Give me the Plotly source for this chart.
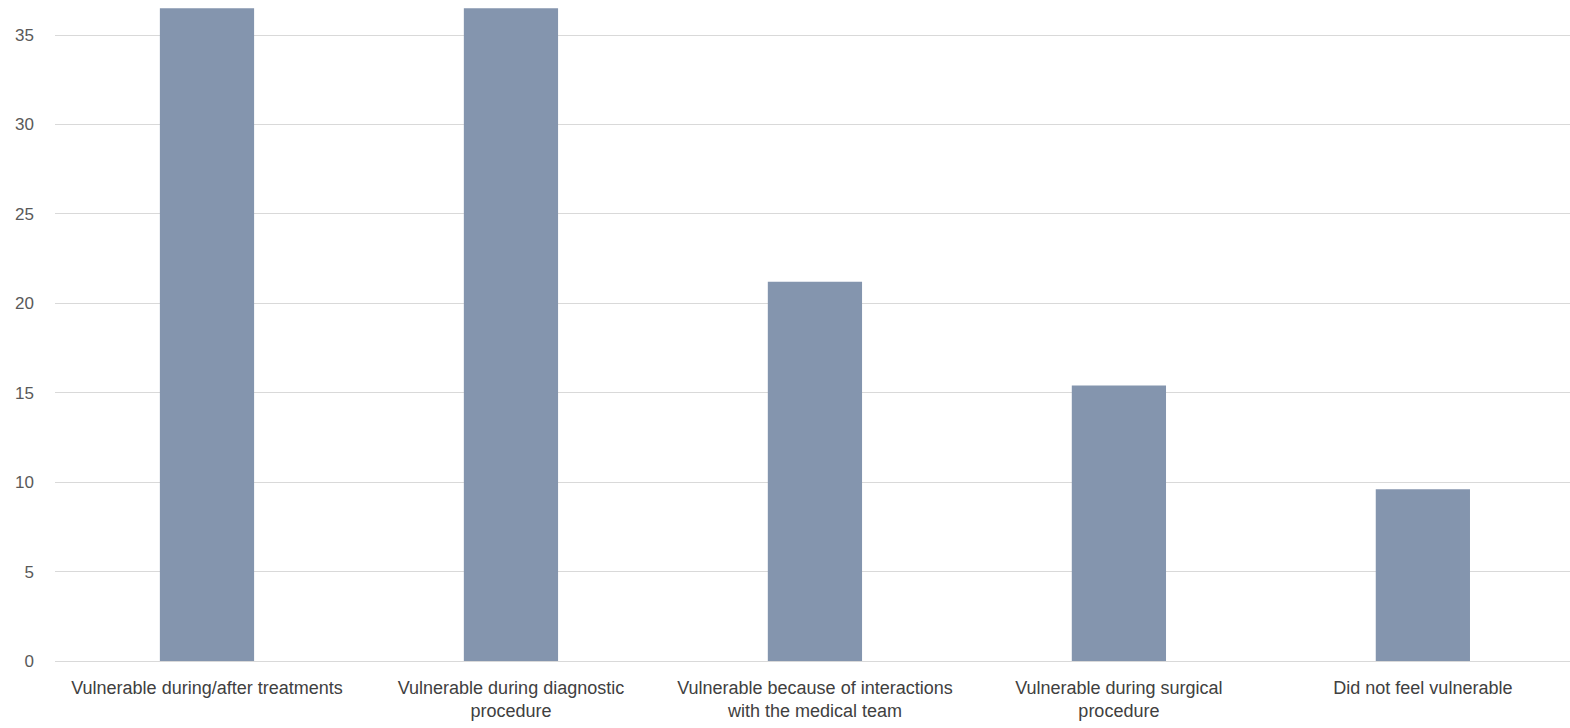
import plotly.graph_objects as go

categories = [
    "Vulnerable during/after treatments",
    "Vulnerable during diagnostic<br>procedure",
    "Vulnerable because of interactions<br>with the medical team",
    "Vulnerable during surgical<br>procedure",
    "Did not feel vulnerable",
]
percentages = [36.5, 36.5, 21.2, 15.4, 9.6]
y_ticks = [0, 5, 10, 15, 20, 25, 30, 35]

fig = go.Figure(
    go.Bar(
        x=categories,
        y=percentages,
        marker=dict(color="#8495ae", line=dict(width=0)),
        width=0.31,
    )
)

font_family = "Liberation Sans, Arial, sans-serif"

fig.update_layout(
    width=1570,
    height=728,
    margin=dict(l=55, r=0, t=0, b=67),
    plot_bgcolor="white",
    paper_bgcolor="white",
    showlegend=False,
    font=dict(family=font_family, size=18, color="#404040"),
)

fig.update_xaxes(
    range=[-0.5, 4.484],
    showgrid=False,
    showline=True,
    linecolor="#d9d9d9",
    linewidth=1,
    ticks="",
    ticklabelstandoff=10,
    tickfont=dict(size=18, color="#404040"),
)

fig.update_yaxes(
    range=[0, 36.96],
    tickvals=y_ticks,
    showgrid=True,
    gridcolor="#d9d9d9",
    gridwidth=1,
    zeroline=False,
    showline=False,
    ticks="",
    ticklabelstandoff=20,
    tickfont=dict(size=17, color="#595959"),
)

fig.write_html("out.html")
